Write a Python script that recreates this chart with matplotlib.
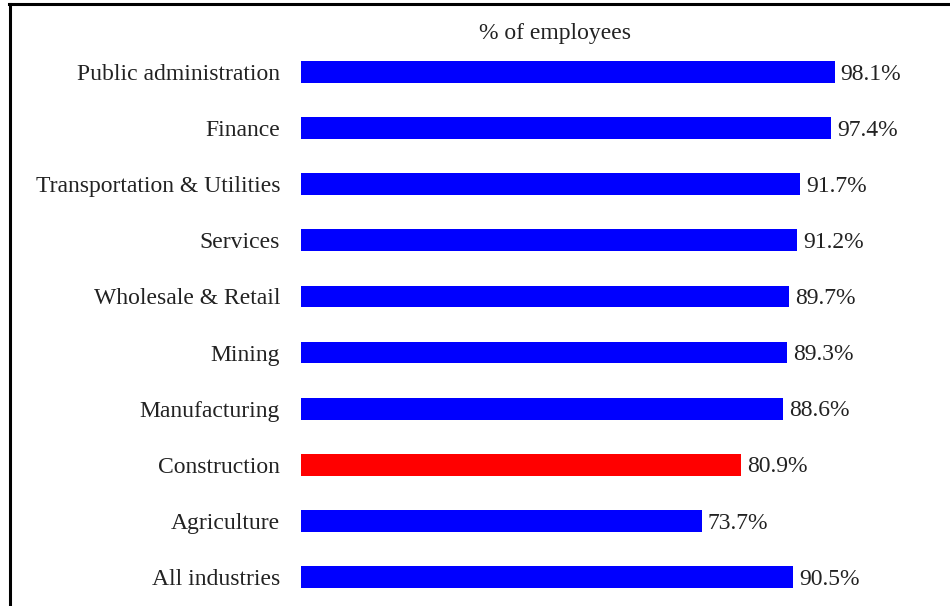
import matplotlib.pyplot as plt
from matplotlib.lines import Line2D

industries = ['All industries', 'Agriculture', 'Construction', 'Manufacturing',
              'Mining', 'Wholesale & Retail', 'Services',
              'Transportation & Utilities', 'Finance', 'Public administration']
pct = [90.5, 73.7, 80.9, 88.6, 89.3, 89.7, 91.2, 91.7, 97.4, 98.1]
colors = ['#0000ff', '#0000ff', '#ff0000', '#0000ff', '#0000ff',
          '#0000ff', '#0000ff', '#0000ff', '#0000ff', '#0000ff']

plt.rcParams['font.family'] = ['Liberation Serif', 'DejaVu Serif']

fig = plt.figure(figsize=(9.5, 6.06), dpi=100)
W, H = 950, 606
ax = fig.add_axes([301 / W, 1 - 605 / H, (845 - 301) / W, (605 - 44) / H])

y = range(len(industries))
bars = ax.barh(y, pct, height=0.39, color=colors)
for yy, v in zip(y, pct):
    ax.text(v + 1.1, yy - 0.04, f'{v}%', va='center', ha='left', fontsize=17,
            color='#222222')

ax.set_xlim(0, 100)
ax.set_ylim(-0.5, len(industries) - 0.5)
ax.set_yticks(list(y))
ax.set_yticklabels(industries, fontsize=17, color='#222222')
ax.tick_params(axis='y', length=0, pad=15)
ax.set_xticks([])
for s in ax.spines.values():
    s.set_visible(False)

fig.text(555 / W, 1 - 33 / H, '% of employees', ha='center', va='center',
         fontsize=17, color='#222222')

# frame lines along top and left edge
fig.add_artist(Line2D([10 / W, 10 / W], [0, 1 - 4 / H], color='black', lw=2.2,
                      transform=fig.transFigure))
fig.add_artist(Line2D([9 / W, 1], [1 - 4 / H, 1 - 4 / H], color='black', lw=2.2,
                      transform=fig.transFigure))

fig.savefig('out.png', dpi=100)
